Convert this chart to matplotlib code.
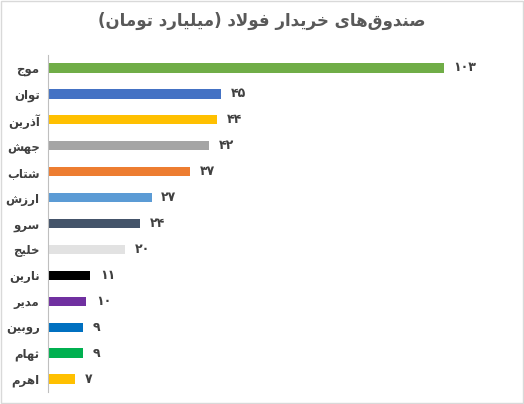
import matplotlib
matplotlib.use("Agg")
import matplotlib.pyplot as plt

categories = ["موج", "توان", "آذرین", "جهش", "شتاب", "ارزش", "سرو", "خلیج", "نارین", "مدیر", "روبین", "ثهام", "اهرم"]
values = [103, 45, 44, 42, 37, 27, 24, 20, 11, 10, 9, 9, 7]
colors = ["#70AD47", "#4472C4", "#FFC000", "#A5A5A5", "#ED7D31", "#5B9BD5", "#44546A",
          "#E2E2E2", "#000000", "#7030A0", "#0070C0", "#00B050", "#FFC000"]
title = "صندوق‌های خریدار فولاد (میلیارد تومان)"

FORMS = {  # isolated, final, initial, medial
    'ا': (0xFE8D, 0xFE8E), 'آ': (0xFE81, 0xFE82), 'د': (0xFEA9, 0xFEAA), 'ذ': (0xFEAB, 0xFEAC),
    'ر': (0xFEAD, 0xFEAE), 'ز': (0xFEAF, 0xFEB0), 'و': (0xFEED, 0xFEEE),
    'ب': (0xFE8F, 0xFE90, 0xFE91, 0xFE92), 'ت': (0xFE95, 0xFE96, 0xFE97, 0xFE98),
    'ث': (0xFE99, 0xFE9A, 0xFE9B, 0xFE9C), 'ج': (0xFE9D, 0xFE9E, 0xFE9F, 0xFEA0),
    'خ': (0xFEA5, 0xFEA6, 0xFEA7, 0xFEA8), 'س': (0xFEB1, 0xFEB2, 0xFEB3, 0xFEB4),
    'ش': (0xFEB5, 0xFEB6, 0xFEB7, 0xFEB8), 'ص': (0xFEB9, 0xFEBA, 0xFEBB, 0xFEBC),
    'ف': (0xFED1, 0xFED2, 0xFED3, 0xFED4), 'ق': (0xFED5, 0xFED6, 0xFED7, 0xFED8),
    'ل': (0xFEDD, 0xFEDE, 0xFEDF, 0xFEE0), 'م': (0xFEE1, 0xFEE2, 0xFEE3, 0xFEE4),
    'ن': (0xFEE5, 0xFEE6, 0xFEE7, 0xFEE8), 'ه': (0xFEE9, 0xFEEA, 0xFEEB, 0xFEEC),
    'ی': (0xFEEF, 0xFEF0, 0xFEF3, 0xFEF4),
}

def shape(s):
    # lam-alef ligature
    s = s.replace('لا', '\uFFFF')
    chars = list(s)
    out = []
    def joins_next(c):
        return c in FORMS and len(FORMS[c]) == 4
    def joins_prev(c):
        return c in FORMS or c == '\uFFFF'
    for i, c in enumerate(chars):
        prev = chars[i - 1] if i > 0 else None
        nxt = chars[i + 1] if i + 1 < len(chars) else None
        jp = prev is not None and joins_next(prev)
        if c == '\uFFFF':
            out.append(chr(0xFEFC if jp else 0xFEFB)); continue
        if c not in FORMS:
            if c != '\u200c':
                out.append(c)
            continue
        f = FORMS[c]
        jn = len(f) == 4 and nxt is not None and joins_prev(nxt)
        if jp and jn: out.append(chr(f[3]))
        elif jp: out.append(chr(f[1]))
        elif jn: out.append(chr(f[2]))
        else: out.append(chr(f[0]))
    vis = ''.join(reversed(out))
    return vis.translate(str.maketrans('()', ')('))

def fa_digits(n):
    return str(n).translate(str.maketrans('0123456789', '۰۱۲۳۴۵۶۷۸۹'))

plt.rcParams['font.family'] = ['DejaVu Sans']
fig = plt.figure(figsize=(5.24, 4.04), dpi=100)
fig.patches.append(plt.Rectangle((0.002, 0.002), 0.996, 0.995, transform=fig.transFigure,
                                 fill=False, edgecolor='#D9D9D9', linewidth=1))
ax = fig.add_axes([48/524, 12/404, 457/524, 337/404])
y = list(range(len(categories)))
ax.barh(y, values, height=0.36, color=colors)
ax.set_ylim(len(categories) - 0.5, -0.5)
ax.set_xlim(0, 119)
ax.set_yticks(y)
ax.set_yticklabels([shape(c) for c in categories], fontsize=8.5, fontweight='bold', color='#404040')
ax.tick_params(axis='y', length=0, pad=6)
ax.set_xticks([])
for s in ['top', 'right', 'bottom']:
    ax.spines[s].set_visible(False)
ax.spines['left'].set_color('#BFBFBF')
for yi, v in zip(y, values):
    ax.text(v + 2.5, yi, fa_digits(v), va='center', ha='left', fontsize=9, fontweight='bold', color='#404040')
fig.text(0.5, 0.947, shape(title), ha='center', va='center', fontsize=12, fontweight='bold', color='#595959')
fig.savefig('out.png', dpi=100)
